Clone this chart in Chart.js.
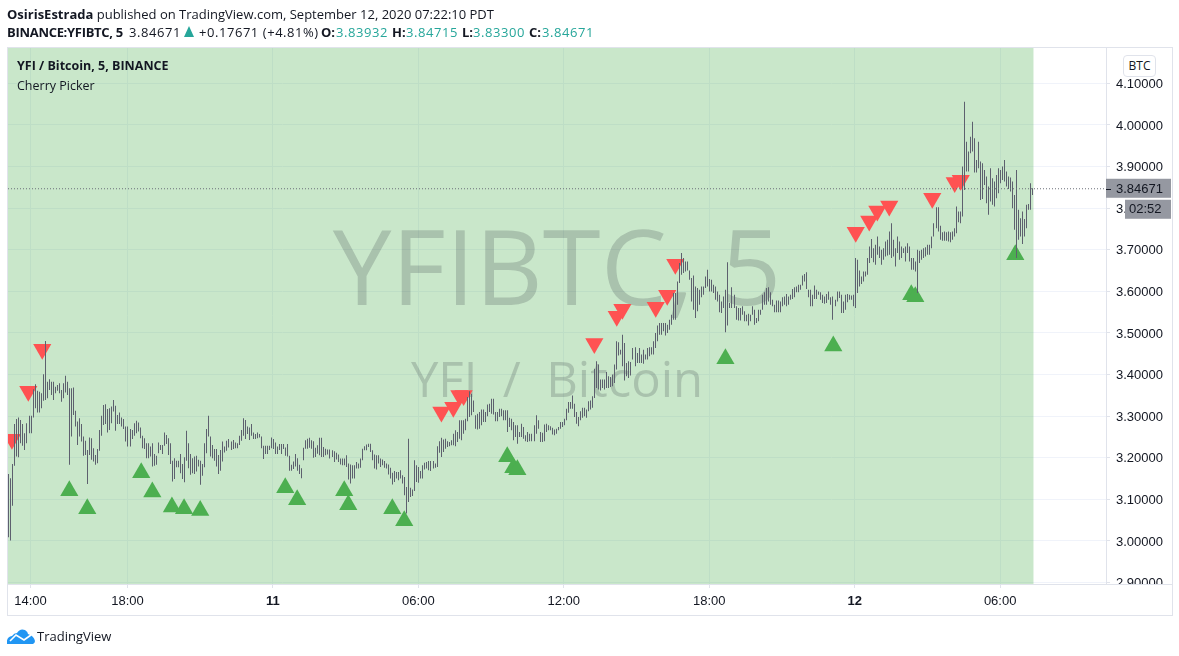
<!DOCTYPE html>
<html><head><meta charset="utf-8">
<style>
html,body{margin:0;padding:0;background:#fff;width:1179px;height:656px;overflow:hidden;font-family:"Open Sans",sans-serif;color:#131722}
#c{position:absolute;left:0;top:0}
.t{position:absolute;white-space:nowrap;font-size:13px;line-height:18px}
.t b{font-weight:700}
.n{letter-spacing:.55px}
.g{color:#26a69a}
#btc{position:absolute;left:1123px;top:55px;width:31px;height:20px;border:1px solid #E0E3EB;border-radius:4px;font:12px "Open Sans",sans-serif;text-align:center;line-height:20px;background:#fff}
</style></head><body>
<div style="position:absolute;left:0;top:0;width:1179px;height:656px"><canvas id="c" width="1179" height="656"></canvas></div>
<div class="t" style="left:7px;top:5px"><b>OsirisEstrada</b> published on TradingView.com, September 12, 2020 07:22:10 PDT</div>
<div class="t" style="left:7px;top:23px;letter-spacing:-.3px"><b>BINANCE:YFIBTC, 5</b></div>
<div class="t n" style="left:129px;top:23px">3.84671</div>
<div style="position:absolute;left:184px;top:26px;width:0;height:0;border-left:5.5px solid transparent;border-right:5.5px solid transparent;border-bottom:11px solid #26a69a"></div>
<div class="t n" style="left:199px;top:23px">+0.17671 (+4.81%)</div>
<div class="t" style="left:321px;top:23px"><b>O:</b></div><div class="t g n" style="left:336px;top:23px">3.83932</div>
<div class="t" style="left:392px;top:23px"><b>H:</b></div><div class="t g n" style="left:406px;top:23px">3.84715</div>
<div class="t" style="left:462px;top:23px"><b>L:</b></div><div class="t g n" style="left:473px;top:23px">3.83300</div>
<div class="t" style="left:529px;top:23px"><b>C:</b></div><div class="t g n" style="left:542px;top:23px">3.84671</div>
<div class="t" style="left:17px;top:57px;font-size:12.5px"><b>YFI / Bitcoin, 5, BINANCE</b></div>
<div class="t" style="left:17px;top:77px;font-size:12.5px">Cherry Picker</div>
<div id="btc">BTC</div>
<svg style="position:absolute;left:7px;top:628px" width="28" height="16" viewBox="0 0 28 16"><path d="M0 16 Q-1 9 5 8 Q7 5 10 5 Q13 0 18 2 Q21 4 21 6 Q27 8 28 13 Q28 15 26 16 Z" fill="#2196F3"/><path d="M3 13 L9 7 L17 12 L24 7" fill="none" stroke="#fff" stroke-width="1.6"/></svg>
<div class="t" style="left:37px;top:627px">TradingView</div>
<script src="https://cdn.jsdelivr.net/npm/chart.js@4/dist/chart.umd.min.js"></script>
<script>
const highs=[3.161,3.151,3.185,3.281,3.293,3.297,3.291,3.281,3.259,3.283,3.301,3.301,3.365,3.377,3.361,3.359,3.355,3.401,3.481,3.383,3.389,3.383,3.383,3.371,3.375,3.379,3.363,3.379,3.397,3.383,3.367,3.367,3.369,3.313,3.287,3.295,3.281,3.251,3.241,3.219,3.249,3.247,3.223,3.207,3.221,3.267,3.301,3.327,3.329,3.317,3.319,3.323,3.339,3.325,3.303,3.309,3.297,3.293,3.275,3.275,3.269,3.267,3.283,3.289,3.285,3.273,3.253,3.247,3.235,3.235,3.227,3.235,3.209,3.205,3.237,3.231,3.231,3.261,3.255,3.247,3.235,3.193,3.199,3.193,3.193,3.209,3.185,3.201,3.265,3.235,3.209,3.199,3.203,3.205,3.195,3.193,3.185,3.235,3.269,3.301,3.251,3.231,3.221,3.221,3.207,3.219,3.239,3.227,3.241,3.245,3.239,3.243,3.237,3.235,3.253,3.267,3.295,3.291,3.275,3.273,3.281,3.261,3.257,3.261,3.257,3.251,3.229,3.229,3.229,3.229,3.249,3.245,3.237,3.227,3.233,3.233,3.233,3.225,3.233,3.205,3.183,3.191,3.209,3.199,3.183,3.175,
3.224,3.242,3.246,3.248,3.242,3.240,3.224,3.230,3.248,3.248,3.226,3.222,3.220,3.220,3.218,3.216,3.212,3.208,3.198,3.198,3.198,3.206,3.186,3.184,3.182,3.182,3.190,3.186,3.198,3.222,3.228,3.232,3.234,3.234,3.218,3.208,3.206,3.206,3.198,3.196,3.192,3.186,3.184,3.176,3.164,3.168,3.166,3.166,3.170,3.158,3.154,3.130,3.246,3.128,3.124,3.194,3.182,3.178,3.168,3.182,3.188,3.190,3.192,3.192,3.192,3.186,3.228,3.240,3.248,3.244,3.246,3.240,3.238,3.242,3.258,3.266,3.262,3.290,3.290,3.290,3.294,3.346,3.360,3.354,3.338,3.302,3.306,3.310,3.316,3.316,3.310,3.328,3.330,3.342,3.342,3.310,3.310,3.318,3.318,3.314,3.314,3.314,3.296,3.294,3.286,3.278,3.278,3.262,3.282,3.274,3.254,3.262,3.258,3.258,3.278,3.302,3.290,3.262,3.260,3.280,3.282,3.278,3.276,3.272,3.268,3.270,3.274,3.286,3.286,3.294,3.318,3.334,3.334,3.350,3.330,3.310,3.298,
3.312,3.320,3.320,3.316,3.336,3.338,3.348,3.414,3.432,3.424,3.388,3.388,3.388,3.406,3.396,3.394,3.400,3.424,3.480,3.478,3.460,3.496,3.476,3.428,3.432,3.430,3.464,3.466,3.452,3.464,3.448,3.460,3.448,3.464,3.466,3.466,3.480,3.500,3.518,3.524,3.524,3.524,3.524,3.520,3.532,3.544,3.596,3.596,3.624,3.668,3.692,3.680,3.672,3.672,3.650,3.632,3.638,3.612,3.608,3.604,3.612,3.612,3.636,3.652,3.630,3.628,3.616,3.612,3.600,3.592,3.576,3.588,3.604,3.670,3.572,3.610,3.592,3.564,3.560,3.560,3.564,3.552,3.544,3.546,3.544,3.564,3.556,3.536,3.556,3.556,3.592,3.598,3.608,3.610,3.598,3.580,3.568,3.578,3.578,3.576,3.586,3.588,3.594,3.588,3.592,3.606,3.610,3.612,3.616,3.616,3.638,3.642,3.646,3.604,3.604,3.592,3.614,3.604,3.600,3.598,3.592,3.588,3.594,3.600,3.586,3.588,3.580,3.600,3.600,3.592,3.576,3.592,3.594,3.592,3.590,3.592,3.680,
3.676,3.650,3.636,3.648,3.648,3.680,3.708,3.726,3.704,3.712,3.732,3.708,3.700,3.704,3.720,3.724,3.744,3.764,3.724,3.704,3.732,3.720,3.708,3.704,3.708,3.716,3.708,3.680,3.680,3.672,3.700,3.698,3.700,3.704,3.706,3.712,3.712,3.732,3.764,3.802,3.802,3.758,3.742,3.744,3.742,3.744,3.742,3.744,3.752,3.804,3.792,3.792,3.900,4.056,3.960,3.936,3.972,4.008,3.968,3.916,3.960,3.912,3.908,3.892,3.876,3.852,3.896,3.872,3.864,3.880,3.896,3.892,3.900,3.916,3.888,3.876,3.874,3.864,3.832,3.892,3.796,3.776,3.792,3.774,3.808,3.810,3.860,3.848];
const lows=[3.009,3.001,3.085,3.181,3.203,3.201,3.235,3.229,3.219,3.235,3.259,3.259,3.297,3.319,3.309,3.309,3.319,3.337,3.339,3.343,3.363,3.351,3.339,3.355,3.361,3.355,3.335,3.343,3.357,3.351,3.183,3.251,3.303,3.275,3.231,3.251,3.239,3.205,3.207,3.137,3.207,3.195,3.191,3.183,3.187,3.217,3.253,3.279,3.281,3.261,3.267,3.283,3.311,3.265,3.281,3.281,3.275,3.269,3.239,3.227,3.227,3.245,3.253,3.259,3.263,3.247,3.223,3.221,3.199,3.199,3.203,3.179,3.181,3.183,3.211,3.219,3.209,3.229,3.233,3.207,3.185,3.143,3.149,3.177,3.177,3.163,3.149,3.141,3.193,3.175,3.159,3.163,3.161,3.167,3.179,3.135,3.157,3.177,3.211,3.251,3.203,3.199,3.193,3.179,3.161,3.169,3.191,3.213,3.217,3.225,3.219,3.221,3.223,3.223,3.231,3.241,3.253,3.245,3.257,3.243,3.253,3.245,3.245,3.247,3.249,3.223,3.197,3.209,3.209,3.219,3.223,3.221,3.209,3.209,3.219,3.209,3.221,3.205,3.203,3.169,3.169,3.173,3.179,3.169,3.161,3.151,
3.194,3.222,3.222,3.224,3.222,3.200,3.202,3.210,3.206,3.202,3.202,3.206,3.208,3.198,3.202,3.190,3.196,3.190,3.184,3.182,3.182,3.178,3.148,3.138,3.150,3.150,3.174,3.174,3.176,3.194,3.218,3.218,3.226,3.214,3.194,3.174,3.172,3.186,3.178,3.182,3.176,3.174,3.160,3.150,3.136,3.142,3.150,3.146,3.150,3.138,3.110,3.066,3.094,3.106,3.108,3.120,3.142,3.140,3.150,3.150,3.172,3.174,3.170,3.168,3.174,3.176,3.178,3.212,3.202,3.214,3.222,3.226,3.228,3.230,3.230,3.228,3.238,3.246,3.242,3.258,3.266,3.288,3.298,3.302,3.310,3.270,3.268,3.270,3.278,3.286,3.286,3.300,3.310,3.306,3.304,3.288,3.288,3.298,3.300,3.290,3.290,3.262,3.274,3.266,3.242,3.250,3.234,3.250,3.250,3.246,3.240,3.238,3.240,3.240,3.240,3.258,3.270,3.238,3.238,3.240,3.262,3.266,3.266,3.256,3.254,3.258,3.266,3.270,3.274,3.278,3.290,3.308,3.318,3.318,3.298,3.282,3.276,
3.290,3.296,3.300,3.296,3.312,3.316,3.320,3.344,3.368,3.364,3.362,3.368,3.364,3.368,3.368,3.370,3.372,3.380,3.412,3.446,3.448,3.420,3.386,3.396,3.392,3.398,3.436,3.420,3.428,3.428,3.428,3.426,3.436,3.436,3.444,3.448,3.448,3.464,3.480,3.496,3.496,3.504,3.494,3.500,3.508,3.520,3.532,3.532,3.568,3.620,3.640,3.644,3.648,3.650,3.628,3.576,3.556,3.536,3.552,3.568,3.586,3.592,3.608,3.612,3.600,3.600,3.596,3.580,3.576,3.550,3.548,3.560,3.502,3.518,3.560,3.560,3.560,3.532,3.530,3.530,3.544,3.528,3.528,3.518,3.528,3.544,3.520,3.524,3.528,3.544,3.556,3.568,3.568,3.576,3.568,3.564,3.550,3.550,3.550,3.550,3.564,3.568,3.564,3.568,3.580,3.582,3.586,3.598,3.598,3.604,3.614,3.624,3.606,3.586,3.564,3.564,3.582,3.582,3.592,3.580,3.572,3.570,3.572,3.580,3.568,3.532,3.564,3.576,3.584,3.548,3.548,3.556,3.574,3.580,3.580,3.564,3.560,
3.596,3.612,3.618,3.624,3.636,3.640,3.668,3.680,3.670,3.664,3.688,3.680,3.664,3.676,3.684,3.686,3.688,3.680,3.684,3.660,3.692,3.676,3.680,3.692,3.672,3.692,3.672,3.652,3.652,3.648,3.596,3.668,3.676,3.680,3.684,3.688,3.688,3.704,3.732,3.752,3.744,3.724,3.722,3.722,3.722,3.720,3.718,3.724,3.732,3.740,3.766,3.764,3.780,3.844,3.888,3.888,3.932,3.936,3.886,3.886,3.896,3.820,3.822,3.856,3.812,3.784,3.816,3.808,3.804,3.824,3.836,3.860,3.868,3.864,3.852,3.846,3.840,3.800,3.748,3.680,3.724,3.732,3.714,3.732,3.752,3.796,3.796,3.832];
const sellBars=[1.8,9.9,16.8,214.4,220.3,223.3,225.4,290.1,301.2,304,320.5,326.2,330.2,419.5,426.2,430.2,436.1,457.4,468.5,471.5];
const sellPrices=[3.2445,3.360,3.461,3.310,3.3215,3.350,3.350,3.475,3.540,3.557,3.562,3.591,3.665,3.742,3.769,3.793,3.805,3.824,3.862,3.867];
const buyBars=[30.2,39.1,65.8,71.3,81,87,95,137.1,143,166.3,168.3,190.1,196,247,250,252,355,408.4,447,449,498.5];
const buyPrices=[3.121,3.0775,3.164,3.118,3.082,3.0775,3.073,3.128,3.099,3.121,3.087,3.0775,3.0486,3.2025,3.176,3.171,3.438,3.469,3.592,3.587,3.688];
const xTickBars=[11,59,131,203,275,347,419,491];
const xTickLabels=['14:00','18:00','11','06:00','12:00','18:00','12','06:00'];
const yTicks=[2.9,3.0,3.1,3.2,3.3,3.4,3.5,3.6,3.7,3.8,3.9,4.0,4.1];
const lastPrice=3.84671;
const lastLabel='3.84671', countdown='02:52';
const wm1='YFIBTC, 5', wm2='YFI  /  Bitcoin';

const xMin=-0.15,xMax=543.4;
const sansUI='"Open Sans",sans-serif', axisFont='"Liberation Sans",Arial,sans-serif';

const backdrop={id:'backdrop',beforeDatasetsDraw(ch){
  const {ctx,chartArea:a,scales:{x}}=ch;
  ctx.save();
  ctx.fillStyle='rgba(76,175,80,0.3)';
  ctx.fillRect(a.left,a.top,x.getPixelForValue(highs.length-1)+1-a.left,a.bottom-a.top);
  ctx.fillStyle='rgba(42,46,57,0.2)';
  ctx.textAlign='center';ctx.textBaseline='alphabetic';
  ctx.font='105px '+sansUI;
  ctx.fillText(wm1,557,305);
  ctx.font='49px '+sansUI;
  ctx.fillText(wm2,557,397);
  ctx.restore();
}};
const snap={id:'snap',afterDatasetsUpdate(ch){
  ch.getDatasetMeta(0).data.forEach(e=>{e.x=Math.round(e.x)+0.5;});
},beforeDraw(ch){
  if(ch.$nudged)return;ch.$nudged=true;
  ch.scales.y.getLabelItems().forEach(it=>{it.options.translation[1]+=1;});
}};
const chrome={id:'chrome',afterDraw(ch){
  const {ctx,chartArea:a,scales:{y}}=ch;
  ctx.save();
  ctx.fillStyle='#fff';ctx.fillRect(a.right+1,a.bottom+1,64,8);
  ctx.strokeStyle='#E0E3EB';ctx.lineWidth=1;
  ctx.strokeRect(7.5,47.5,1165,568);
  ctx.beginPath();ctx.moveTo(7,a.bottom+.5);ctx.lineTo(1172,a.bottom+.5);ctx.stroke();
  const py=y.getPixelForValue(lastPrice);
  ctx.fillStyle='#9598A1';
  ctx.fillRect(a.right,py-10,65,19);
  ctx.fillRect(1125,py+11,46,19);
  ctx.fillStyle='#131722';
  ctx.fillRect(a.right,Math.round(py),5,1);
  ctx.font='13px '+axisFont;ctx.textAlign='left';ctx.textBaseline='middle';
  ctx.fillText(lastLabel,1116,py+.5);
  ctx.fillText(countdown,1129,py+20.5);
  ctx.restore();
}};
new Chart(document.getElementById('c'),{
  type:'bar',
  data:{datasets:[
    {label:'Bars',data:highs.map((h,i)=>({x:i,y:[lows[i],h]})),backgroundColor:'#5D606E',barThickness:1,inflateAmount:0,grouped:false,order:1},
    {type:'scatter',label:'Last',data:[{x:xMin,y:lastPrice},{x:xMax,y:lastPrice}],showLine:true,borderColor:'#6b6f78',borderWidth:1,borderDash:[1,2],pointRadius:0,order:0,clip:false},
    {type:'scatter',label:'Sell',data:sellBars.map((b,i)=>({x:b,y:sellPrices[i]})),pointStyle:'triangle',rotation:180,pointRadius:10.5,borderWidth:0,backgroundColor:'#FF5252',order:3},
    {type:'scatter',label:'Buy',data:buyBars.map((b,i)=>({x:b,y:buyPrices[i]})),pointStyle:'triangle',pointRadius:10.5,borderWidth:0,backgroundColor:'#4CAF50',order:2}
  ]},
  plugins:[backdrop,snap,chrome],
  options:{
    responsive:false,animation:false,devicePixelRatio:1,
    layout:{autoPadding:false,padding:{left:8,top:47,right:7,bottom:41}},
    plugins:{legend:{display:false},tooltip:{enabled:false},title:{display:false}},
    scales:{
      x:{type:'linear',min:xMin,max:xMax,offset:false,
        afterBuildTicks(s){s.ticks=xTickBars.map(v=>({value:v}));},
        afterFit(s){s.height=31;s.paddingLeft=0;s.paddingRight=0;},
        grid:{offset:false,color:'#F0F3FA',tickColor:'#E0E3EB',tickLength:4,drawTicks:true},
        border:{color:'#E0E3EB'},
        ticks:{autoSkip:false,maxRotation:0,padding:6,color:'#131722',
          callback(v){const i=xTickBars.indexOf(v);return i>=0?xTickLabels[i]:'';},
          font(c){const i=xTickBars.indexOf(c.tick&&c.tick.value);const l=xTickLabels[i]||'';return {family:axisFont,size:13,weight:l.length<=2?'bold':'normal'};}
        }},
      y:{type:'linear',position:'right',min:2.8966,max:4.1875,
        afterBuildTicks(s){s.ticks=yTicks.map(v=>({value:v}));},
        afterFit(s){s.width=66;s.paddingTop=0;s.paddingBottom=0;},
        grid:{color:'#F0F3FA',tickColor:'#E0E3EB',tickLength:4},
        border:{color:'#E0E3EB'},
        ticks:{autoSkip:false,padding:6,color:'#131722',font:{family:axisFont,size:13},
          callback(v){return v.toFixed(5);}}
      }
    }
  }
});
</script>
</body></html>
